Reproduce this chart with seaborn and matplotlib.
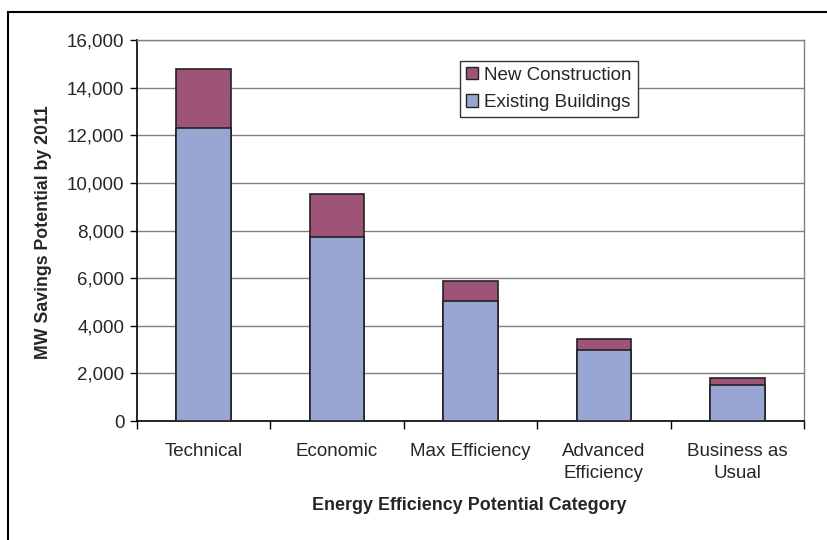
import matplotlib
matplotlib.use("Agg")
import matplotlib.pyplot as plt
import seaborn as sns
import pandas as pd
from matplotlib.patches import Patch, Rectangle
from matplotlib.ticker import FuncFormatter, FixedLocator

categories = ["Technical", "Economic", "Max Efficiency", "Advanced\nEfficiency", "Business as\nUsual"]
existing = [12300, 7720, 5050, 3000, 1500]
new_construction = [2480, 1830, 850, 450, 300]
yticks = [0, 2000, 4000, 6000, 8000, 10000, 12000, 14000, 16000]

sns.set_theme(style="white")
plt.rcParams['font.family'] = ['Liberation Sans', 'DejaVu Sans']

totals = [e + n for e, n in zip(existing, new_construction)]
df = pd.DataFrame({"cat": categories, "existing": existing, "total": totals})

L, R, T, B = 137, 804, 40, 421
W, H = R - L, B - T
fig = plt.figure(figsize=(8.28, 5.4), dpi=100)
ax = fig.add_axes([L/828, 1-B/540, W/828, H/540])

new_col = "#9E5476"
ex_col = "#99A6D3"
sns.barplot(data=df, x="cat", y="total", color=new_col, width=0.41, edgecolor="#222222",
            linewidth=1.2, saturation=1, ax=ax, zorder=3)
sns.barplot(data=df, x="cat", y="existing", color=ex_col, width=0.41, edgecolor="#222222",
            linewidth=1.2, saturation=1, ax=ax, zorder=4)

ax.set_ylim(0, 16000)
ax.set_xlim(-0.5, 4.5)
ax.set_yticks(yticks)
ax.yaxis.set_major_formatter(FuncFormatter(lambda v, p: f"{int(v):,}"))
ax.grid(axis="y", color="#808080", linewidth=1.0, zorder=0)
ax.set_axisbelow(True)

ax.tick_params(axis="y", which="major", length=5, width=1, color="black", labelsize=13.5, pad=4, left=True)
ax.tick_params(axis="x", which="major", length=0, labelsize=13.5, pad=16)
ax.xaxis.set_minor_locator(FixedLocator([-0.5, 0.5, 1.5, 2.5, 3.5, 4.5]))
ax.tick_params(axis="x", which="minor", length=6, width=1, color="black", bottom=True, direction="out")
for lab in ax.get_xticklabels():
    lab.set_linespacing(1.35)

for s in ["left", "bottom"]:
    ax.spines[s].set_color("black")
    ax.spines[s].set_linewidth(1.2)
for s in ["top", "right"]:
    ax.spines[s].set_color("#808080")
    ax.spines[s].set_linewidth(1.0)

ax.set_xlabel("Energy Efficiency Potential Category", fontsize=12.9, fontweight="bold")
ax.set_ylabel("MW Savings Potential by 2011", fontsize=12.8, fontweight="bold")
ax.xaxis.set_label_coords((469 - L) / W, -(506 - B) / H)
ax.yaxis.set_label_coords(-(L - 44) / W, (B - 232) / H)
ax.xaxis.label.set_va("center")
ax.yaxis.label.set_va("center")

handles = [Patch(facecolor=new_col, edgecolor="#222222", label="New Construction"),
           Patch(facecolor=ex_col, edgecolor="#222222", label="Existing Buildings")]
leg = ax.legend(handles=handles, loc="upper left",
                bbox_to_anchor=((460 - L) / W, (B - 61) / H), fontsize=13.5,
                frameon=True, fancybox=False, edgecolor="#333333", framealpha=1,
                handlelength=0.65, handleheight=0.65, handletextpad=0.35, borderpad=0.3,
                labelspacing=0.55, borderaxespad=0)
leg.get_frame().set_linewidth(1.0)
leg.set_zorder(10)

fig.patches.append(Rectangle((8/828, -0.1), 1.2, 1-12/540+0.1, transform=fig.transFigure,
                             fill=False, edgecolor="black", linewidth=1.5))

fig.savefig("out.png", dpi=100)
